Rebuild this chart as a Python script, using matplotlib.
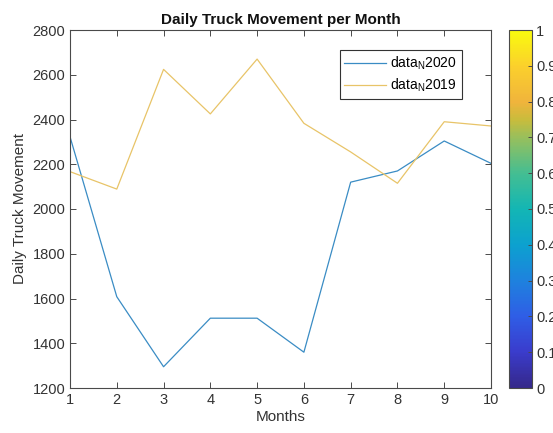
import matplotlib
matplotlib.use("Agg")
import matplotlib.pyplot as plt
from matplotlib.colors import LinearSegmentedColormap, Normalize
from matplotlib.cm import ScalarMappable

plt.rcParams['font.family'] = ['Liberation Sans', 'DejaVu Sans']
plt.rcParams['mathtext.fontset'] = 'custom'
plt.rcParams['mathtext.rm'] = 'Liberation Sans'
plt.rcParams['mathtext.it'] = 'Liberation Sans'

# Monthly averages of daily truck movements
months = [1, 2, 3, 4, 5, 6, 7, 8, 9, 10]
trucks_2020 = [2323, 1608, 1295, 1512, 1512, 1360, 2120, 2170, 2304, 2204]
trucks_2019 = [2167, 2089, 2624, 2425, 2670, 2383, 2255, 2115, 2390, 2371]

x_ticks = [1, 2, 3, 4, 5, 6, 7, 8, 9, 10]
y_ticks = [1200, 1400, 1600, 1800, 2000, 2200, 2400, 2600, 2800]
cbar_ticks = [0, 0.1, 0.2, 0.3, 0.4, 0.5, 0.6, 0.7, 0.8, 0.9, 1]

# Parula-like colormap
parula_stops = [
    (0.00, '#35288a'), (0.10, '#3a3ccc'), (0.20, '#2f5ee6'),
    (0.30, '#1e82de'), (0.40, '#0ca1cf'), (0.50, '#13b6b4'),
    (0.60, '#44be92'), (0.70, '#98bf5c'), (0.75, '#c8bc3c'),
    (0.80, '#f0b43c'), (0.90, '#fbd02c'), (1.00, '#f9fb0e'),
]
parula = LinearSegmentedColormap.from_list('parula_like', parula_stops)

axis_color = '#4a4a4a'
text_color = '#333333'

fig = plt.figure(figsize=(5.53, 4.33), dpi=100)
ax = fig.add_axes([70 / 553, 1 - 388 / 433, 421 / 553, 358 / 433])

ax.plot(months, trucks_2020, color='#3a8cc4', lw=0.9, label=r'data$_{\rm N}$2020')
ax.plot(months, trucks_2019, color='#e8c468', lw=0.9, label=r'data$_{\rm N}$2019')

ax.set_xlim(1, 10)
ax.set_ylim(1200, 2800)
ax.set_xticks(x_ticks)
ax.set_yticks(y_ticks)
ax.tick_params(direction='in', length=4, width=0.7, top=True, right=True,
               colors=axis_color, labelcolor=text_color, labelsize=10.5)
for s in ax.spines.values():
    s.set_color(axis_color)
    s.set_linewidth(0.8)

ax.set_title('Daily Truck Movement per Month', fontsize=11, fontweight='bold',
             color='#111111', pad=4)
ax.set_xlabel('Months', fontsize=11, color=text_color, labelpad=2)
ax.set_ylabel('Daily Truck Movement', fontsize=11, color=text_color, labelpad=4)

leg = ax.legend(loc='upper right', bbox_to_anchor=(0.931, 0.944), fontsize=10,
                handlelength=3.0, handletextpad=0.3, borderpad=0.35,
                labelspacing=0.3, fancybox=False, framealpha=1,
                edgecolor='#333333', borderaxespad=0)
leg.get_frame().set_linewidth(0.8)

cax = fig.add_axes([509 / 553, 1 - 388 / 433, 23 / 553, 358 / 433])
cb = fig.colorbar(ScalarMappable(norm=Normalize(0, 1), cmap=parula), cax=cax)
cb.set_ticks(cbar_ticks)
cb.set_ticklabels([f'{t:g}' for t in cbar_ticks])
cax.tick_params(direction='in', length=3, width=0.7, colors=axis_color,
                labelcolor=text_color, labelsize=10.5, pad=3)
cb.outline.set_edgecolor(axis_color)
cb.outline.set_linewidth(0.8)

fig.savefig('out.png', dpi=100)
